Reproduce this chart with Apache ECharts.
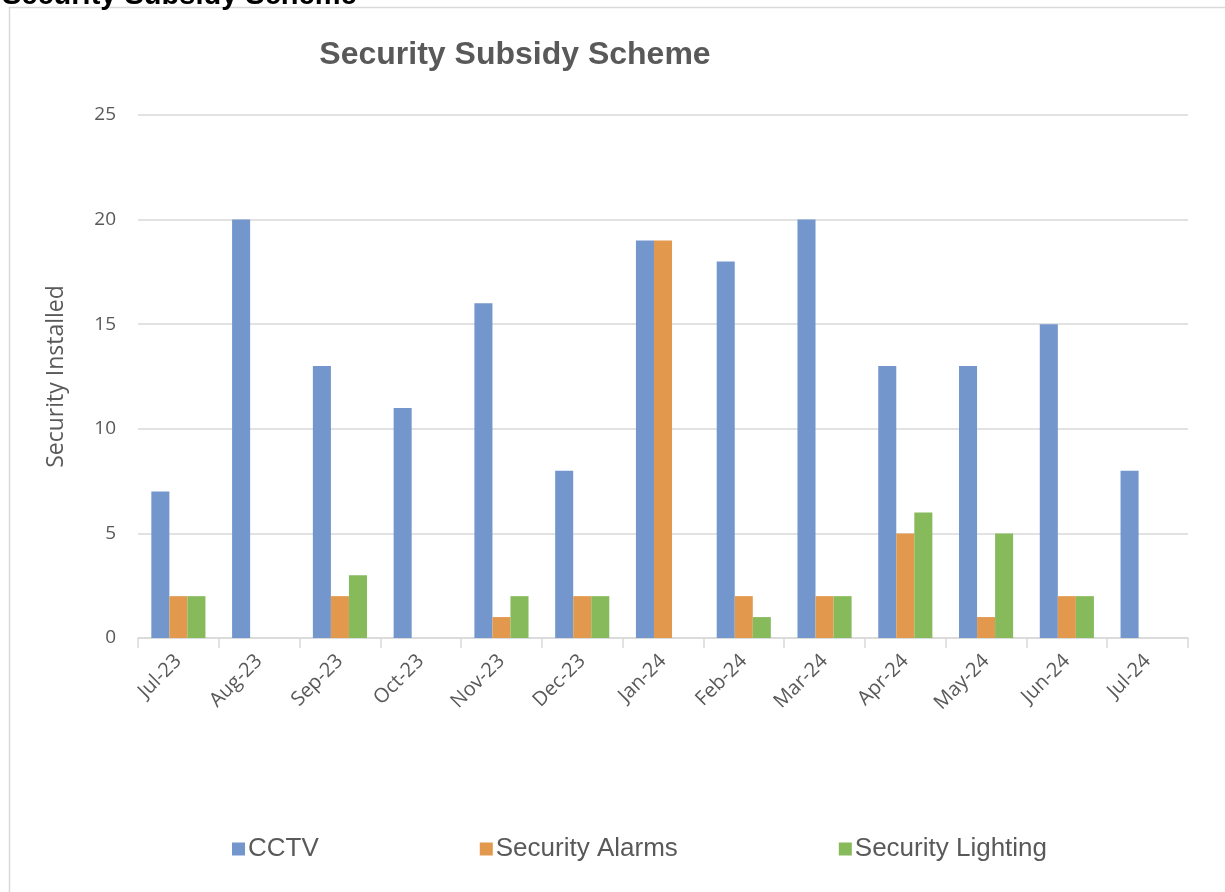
<!DOCTYPE html>
<html>
<head>
<meta charset="utf-8">
<script src="https://cdn.jsdelivr.net/npm/echarts@6/dist/echarts.min.js"></script>
<style>
html,body{margin:0;padding:0;background:#fff;}
#chart{width:1225px;height:892px;}
</style>
</head>
<body>
<div id="chart"></div>
<script>
const categories = ['Jul-23','Aug-23','Sep-23','Oct-23','Nov-23','Dec-23','Jan-24','Feb-24','Mar-24','Apr-24','May-24','Jun-24','Jul-24'];
const cctv = [7, 20, 13, 11, 16, 8, 19, 18, 20, 13, 13, 15, 8];
const alarms = [2, 0, 2, 0, 1, 2, 19, 2, 2, 5, 1, 2, 0];
const lighting = [2, 0, 3, 0, 2, 2, 0, 1, 2, 6, 5, 2, 0];
const yTicks = [0, 5, 10, 15, 20, 25];

const chart = echarts.init(document.getElementById('chart'), null, {renderer: 'canvas'});
const gray = '#595959';
const axisFont = 'Open Sans';
const option = {
  backgroundColor: '#ffffff',
  animation: false,
  graphic: [
    {type: 'rect', shape: {x: 9.5, y: 7.5, width: 1300, height: 1000}, style: {fill: 'none', stroke: '#d9d9d9', lineWidth: 1.5}, silent: true, z: -1},
    {type: 'text', x: 2, y: 10, style: {text: 'Security Subsidy Scheme', font: 'bold 29px "Liberation Sans", Arial, sans-serif', fill: '#000', verticalAlign: 'bottom', align: 'left'}}
  ],
  title: {
    text: 'Security Subsidy Scheme',
    left: 510, top: 34, textAlign: 'center',
    textStyle: {fontFamily: '"Liberation Sans", Arial, sans-serif', fontWeight: 'bold', fontSize: 32, color: gray}
  },
  legend: {
    left: 227, top: 831,
    itemWidth: 13, itemHeight: 13, itemGap: 161,
    icon: 'rect',
    textStyle: {fontFamily: '"Liberation Sans", Arial, sans-serif', fontSize: 26, color: gray, padding: [0,0,0,-2]},
    data: ['CCTV', 'Security Alarms', 'Security Lighting']
  },
  grid: {left: 138, right: 37, top: 115, bottom: 254},
  xAxis: {
    type: 'category',
    data: categories,
    boundaryGap: true,
    axisLine: {lineStyle: {color: '#d9d9d9', width: 1.5}},
    axisTick: {show: true, length: 10, lineStyle: {color: '#d9d9d9', width: 1.5}},
    axisLabel: {rotate: 45, fontFamily: axisFont, fontSize: 20, color: gray, margin: 20, interval: 0}
  },
  yAxis: {
    type: 'value',
    min: yTicks[0], max: yTicks[yTicks.length - 1], interval: 5,
    name: 'Security Installed',
    nameLocation: 'middle', nameGap: 70, nameRotate: 90,
    nameTextStyle: {fontFamily: axisFont, fontSize: 23, color: gray},
    axisLine: {show: false}, axisTick: {show: false},
    axisLabel: {fontFamily: axisFont, fontSize: 19, color: gray, margin: 22},
    splitLine: {lineStyle: {color: '#d9d9d9', width: 1.5}}
  },
  series: [
    {name: 'CCTV', type: 'bar', data: cctv, itemStyle: {color: '#7396CD'}, barGap: '0%', barCategoryGap: '33%'},
    {name: 'Security Alarms', type: 'bar', data: alarms, itemStyle: {color: '#E2984D'}},
    {name: 'Security Lighting', type: 'bar', data: lighting, itemStyle: {color: '#86BA5B'}}
  ]
};
chart.setOption(option);
</script>
</body>
</html>
